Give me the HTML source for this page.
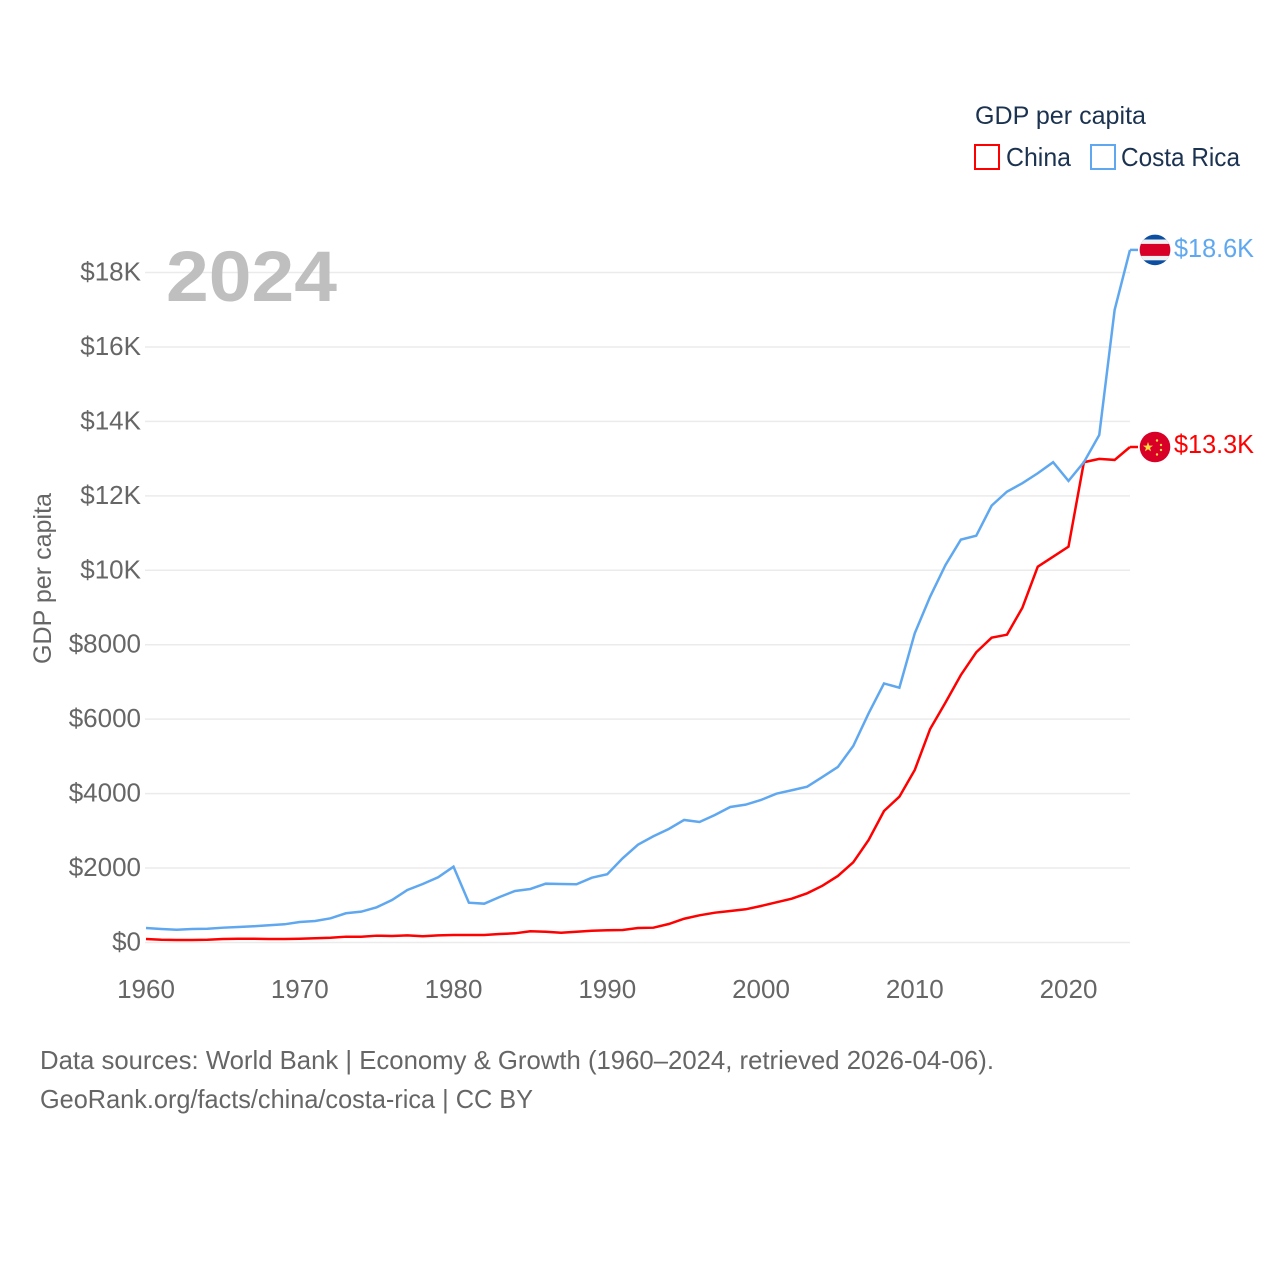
<!DOCTYPE html>
<html lang="en">
<head>
<meta charset="utf-8">
<title>GDP per capita: China and Costa Rica</title>
<style>
html,body{margin:0;padding:0;background:#fff;}
svg{display:block;font-family:"Liberation Sans",sans-serif;}
</style>
</head>
<body>
<svg id="chart" xmlns="http://www.w3.org/2000/svg" width="1280" height="1280" viewBox="0 0 1280 1280">
  <rect x="0" y="0" width="1280" height="1280" fill="#ffffff"/>
  <g id="grid"></g>
  <g id="y-axis"></g>
  <g id="x-axis"></g>
  <text x="166" y="301" font-size="71" font-weight="700" fill="#bfbfbf" textLength="171" lengthAdjust="spacingAndGlyphs">2024</text>
  <g id="series"></g>
  <g id="end-markers"></g>
  <text transform="translate(51,664) rotate(-90)" font-size="25" fill="#666666" textLength="171" lengthAdjust="spacingAndGlyphs">GDP per capita</text>
  <g>
    <text x="975" y="124" font-size="25" fill="#1b3250" textLength="171" lengthAdjust="spacingAndGlyphs">GDP per capita</text>
    <g>
      <rect x="975" y="145" width="24" height="24" fill="none" stroke="#ff0000" stroke-width="2"/>
      <text x="1006" y="166" font-size="26" fill="#1b3250" textLength="65" lengthAdjust="spacingAndGlyphs">China</text>
    </g>
    <g>
      <rect x="1091" y="145" width="24" height="24" fill="none" stroke="#5fa8f0" stroke-width="2"/>
      <text x="1121" y="166" font-size="26" fill="#1b3250" textLength="119" lengthAdjust="spacingAndGlyphs">Costa Rica</text>
    </g>
  </g>
  <g>
    <text x="40" y="1069" font-size="26" fill="#666666" textLength="954" lengthAdjust="spacingAndGlyphs">Data sources: World Bank | Economy &amp; Growth (1960–2024, retrieved 2026-04-06).</text>
    <text x="40" y="1108" font-size="26" fill="#666666" textLength="493" lengthAdjust="spacingAndGlyphs">GeoRank.org/facts/china/costa-rica | CC BY</text>
  </g>
</svg>
<script>
var years = [1960,1961,1962,1963,1964,1965,1966,1967,1968,1969,1970,1971,1972,1973,1974,1975,1976,1977,1978,1979,1980,1981,1982,1983,1984,1985,1986,1987,1988,1989,1990,1991,1992,1993,1994,1995,1996,1997,1998,1999,2000,2001,2002,2003,2004,2005,2006,2007,2008,2009,2010,2011,2012,2013,2014,2015,2016,2017,2018,2019,2020,2021,2022,2023,2024];
var chinaValues = [94,75,67,67,75,94,102,102,94,94,102,113,129,156,156,183,175,193,167,193,201,201,201,228,247,301,290,263,290,317,328,336,390,398,497,639,731,801,846,892,981,1080,1177,1322,1526,1787,2155,2754,3533,3917,4635,5736,6448,7187,7797,8189,8270,8995,10097,10366,10635,12903,12992,12965,13312];
var costaRicaValues = [390,363,344,363,371,398,416,435,462,489,551,578,650,785,828,946,1142,1411,1572,1752,2037,1069,1043,1223,1384,1438,1580,1572,1564,1741,1833,2262,2628,2854,3050,3292,3238,3426,3641,3703,3829,3998,4090,4186,4447,4716,5280,6158,6959,6846,8308,9291,10143,10823,10930,11737,12113,12339,12607,12903,12400,12903,13636,16995,18607];
var yTickValues = [0,2000,4000,6000,8000,10000,12000,14000,16000,18000];
var yTickLabels = ['$0','$2000','$4000','$6000','$8000','$10K','$12K','$14K','$16K','$18K'];
var xTickValues = [1960,1970,1980,1990,2000,2010,2020];
var xTickLabels = ['1960','1970','1980','1990','2000','2010','2020'];
var endLabels = ['$13.3K','$18.6K'];

var NS = 'http://www.w3.org/2000/svg';
function xScale(year) { return 146 + (year - 1960) * (1130 - 146) / 64; }
function yScale(value) { return 942.5 - value * (942.5 - 272.5) / 18000; }
function make(tag, parent) {
  var el = document.createElementNS(NS, tag);
  parent.appendChild(el);
  return el;
}
function set(el, attrs) {
  for (var k in attrs) el.setAttribute(k, attrs[k]);
}

var gridG = document.getElementById('grid');
var yAxisG = document.getElementById('y-axis');
var xAxisG = document.getElementById('x-axis');
var seriesG = document.getElementById('series');
var markersG = document.getElementById('end-markers');

yTickValues.forEach(function (v, i) {
  var line = make('line', gridG);
  
  
  set(line, {x1: 145, x2: 1130, y1: yScale(v), y2: yScale(v), stroke: '#ebebeb', 'stroke-width': 1.5});
  var t = make('text', yAxisG);
  
  
  set(t, {x: 141, y: yScale(v) + 8, 'text-anchor': 'end', 'font-size': 26, fill: '#666666'});
  t.textContent = yTickLabels[i];
});

xTickValues.forEach(function (v, i) {
  var t = make('text', xAxisG);
  
  
  set(t, {x: xScale(v), y: 998, 'text-anchor': 'middle', 'font-size': 26, fill: '#666666'});
  t.textContent = xTickLabels[i];
});

function pathFor(values) {
  return values.map(function (v, i) {
    return (i ? 'L' : 'M') + xScale(years[i]).toFixed(2) + ' ' + yScale(v).toFixed(2);
  }).join('');
}

var chinaLine = make('path', seriesG);


set(chinaLine, {d: pathFor(chinaValues), fill: 'none', stroke: '#ff0000', 'stroke-width': 2.5, 'stroke-linejoin': 'miter'});

var costaRicaLine = make('path', seriesG);


set(costaRicaLine, {d: pathFor(costaRicaValues), fill: 'none', stroke: '#5fa8f0', 'stroke-width': 2.5, 'stroke-linejoin': 'miter'});

var lastIndex = years.length - 1;
var endX = xScale(years[lastIndex]);

function endMarker(values, color, labelText, labelOffset) {
  var y = yScale(values[lastIndex]);
  var stub = make('line', markersG);
  
  
  set(stub, {x1: endX, x2: endX + 8, y1: y, y2: y, stroke: color, 'stroke-width': 2.5});
  var flag = make('g', markersG);
  
  
  flag.setAttribute('transform', 'translate(' + (endX + 25) + ',' + y + ')');
  var label = make('text', markersG);
  
  
  set(label, {x: endX + 44, y: y + labelOffset, 'font-size': 26, fill: color, textLength: 80, lengthAdjust: 'spacingAndGlyphs'});
  label.textContent = labelText;
  return flag;
}

var cnFlag = endMarker(chinaValues, '#ff0000', endLabels[0], 6);
var crFlag = endMarker(costaRicaValues, '#5fa8f0', endLabels[1], 7);

var cnDisc = make('circle', cnFlag);


set(cnDisc, {r: 15.3, fill: '#d80027'});
var cnStar = make('polygon', cnFlag);


set(cnStar, {points: '-7,-5 -5.7,-1.4 -2,-1.4 -5,0.9 -3.9,4.4 -7,2.3 -10.1,4.4 -9,0.9 -12,-1.4 -8.3,-1.4', fill: '#ffda44'});
[[2,-6.5],[6,-2],[6,3],[2,7.5]].forEach(function (p) {
  var s = make('circle', cnFlag);
  
  
  set(s, {cx: p[0], cy: p[1], r: 1.2, fill: '#ffda44'});
});

var clip = make('clipPath', crFlag);
clip.setAttribute('id', 'cr-clip');
var clipCircle = make('circle', clip);
set(clipCircle, {r: 15.3});
var crStripes = make('g', crFlag);


crStripes.setAttribute('clip-path', 'url(#cr-clip)');
[[-16,32,'#0b4ea2'],[-10.4,20.8,'#f0f0f0'],[-6,12,'#d80027']].forEach(function (b) {
  var r = make('rect', crStripes);
  
  
  set(r, {x: -16, y: b[0], width: 32, height: b[1], fill: b[2]});
});
</script>
</body>
</html>
